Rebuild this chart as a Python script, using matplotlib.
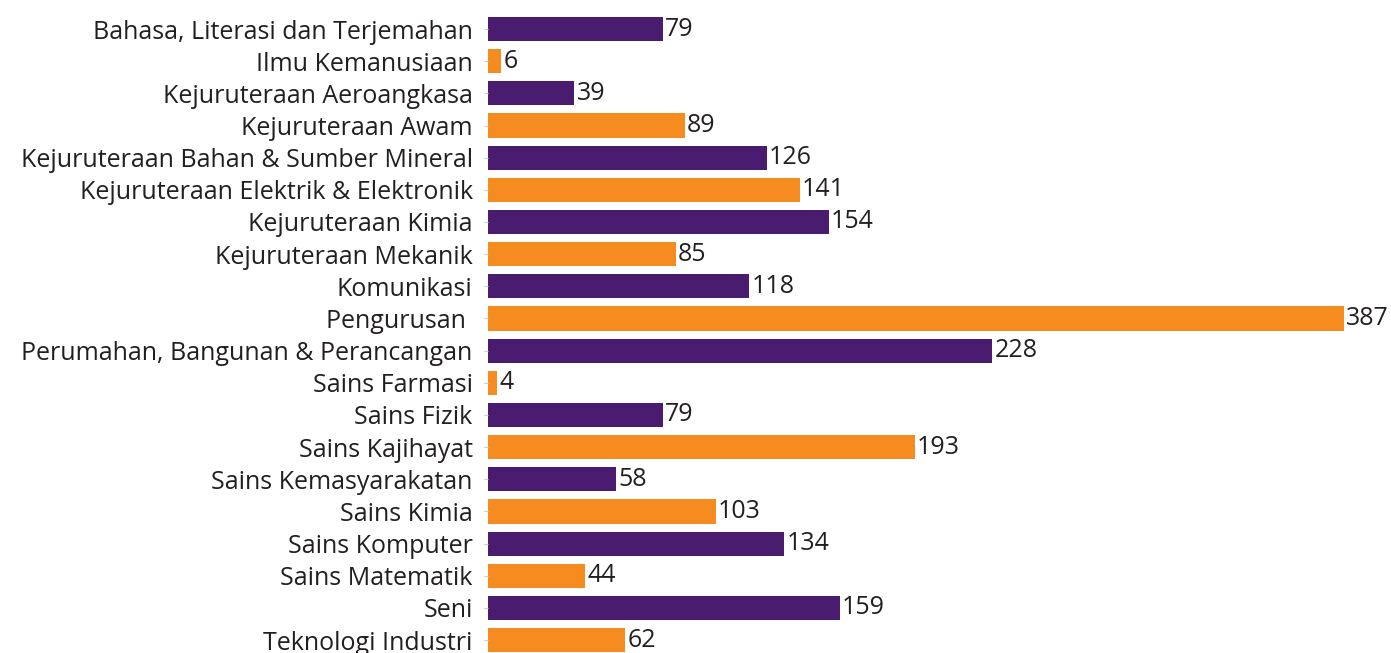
import numpy as np
import matplotlib
matplotlib.use("Agg")
import matplotlib.pyplot as plt

categories = ["Bahasa, Literasi dan Terjemahan", "Ilmu Kemanusiaan", "Kejuruteraan Aeroangkasa",
              "Kejuruteraan Awam", "Kejuruteraan Bahan & Sumber Mineral",
              "Kejuruteraan Elektrik & Elektronik", "Kejuruteraan Kimia", "Kejuruteraan Mekanik",
              "Komunikasi", "Pengurusan ", "Perumahan, Bangunan & Perancangan", "Sains Farmasi",
              "Sains Fizik", "Sains Kajihayat", "Sains Kemasyarakatan", "Sains Kimia",
              "Sains Komputer", "Sains Matematik", "Seni", "Teknologi Industri"]
values = [79, 6, 39, 89, 126, 141, 154, 85, 118, 387, 228, 4, 79, 193, 58, 103, 134, 44, 159, 62]

purple = "#4a1c70"
orange = "#f68b1f"
colors = [purple if i % 2 == 0 else orange for i in range(len(values))]

plt.rcParams['font.family'] = ['Open Sans', 'DejaVu Sans']
fig = plt.figure(figsize=(13.91, 6.53), dpi=100)
ax = fig.add_axes([488/1391, 0, (1344-488)/1391, 1])

y = np.arange(len(values))
ax.barh(y, values, height=0.75, color=colors)
for yi, v in zip(y, values):
    ax.text(v + 1.0, yi, str(v), va="center", ha="left", fontsize=18, color="#231f20", clip_on=False)

ax.set_xlim(0, 387)
ax.set_ylim(19.40, -0.902)
ax.set_yticks(y)
ax.set_yticklabels(categories, fontsize=18, color="#231f20")
ax.tick_params(axis="y", length=3, color="#cccccc", pad=8)
ax.set_xticks([])
for s in ax.spines.values():
    s.set_visible(False)

plt.savefig("out.png", dpi=100)
